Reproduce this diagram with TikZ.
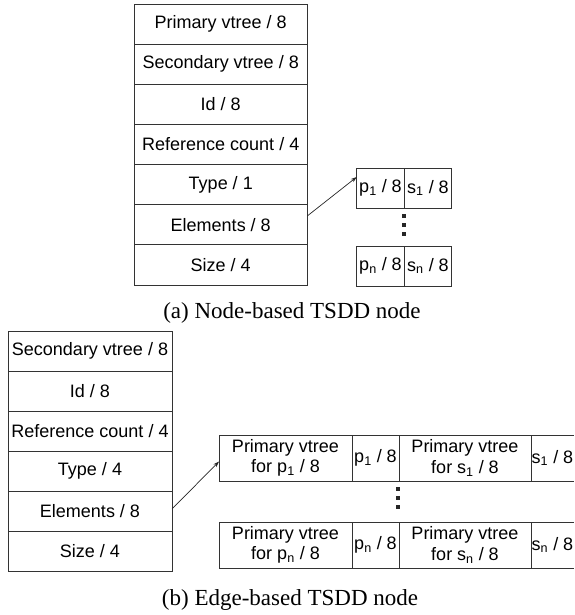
\documentclass[tikz,border=0pt]{standalone}
\usepackage{fontspec}
\setmainfont{Liberation Serif}
\newfontfamily\boxfont{Liberation Sans}
\usetikzlibrary{arrows.meta}
\begin{document}
\begin{tikzpicture}[x=1pt,y=-1pt,every node/.style={draw=black!80, line width=0.8pt, outer sep=0pt, inner sep=1pt, font=\boxfont\fontsize{18}{20.5}\selectfont},
  field/.style={minimum width=173.5pt, minimum height=40.14pt},
  efield/.style={minimum width=164pt, minimum height=40pt},
  pair/.style={minimum width=47.5pt, minimum height=40pt},
  wide/.style={minimum height=46pt, align=center},
  cutbox/.style={minimum height=46pt, draw=none, minimum width=43pt, inner xsep=0.5pt, anchor=west},
  edge line/.style={draw=black!80, line width=0.8pt},
  caption/.style={draw=none, font=\rmfamily\fontsize{23}{26}\selectfont},
  dot/.style={fill=black!85}]
\useasboundingbox (0,0) rectangle (574,615);
% (a) node-based
\node[field] (pv) at (220.75,24.1) {Primary vtree / 8};
\node[field] (sv) at (220.75,64.2) {Secondary vtree / 8};
\node[field] (id) at (220.75,104.4) {Id / 8};
\node[field] (rc) at (220.75,144.5) {Reference count / 4};
\node[field] (ty) at (220.75,184.7) {Type / 1};
\node[field] (el) at (220.75,224.8) {Elements / 8};
\node[field] (sz) at (220.75,264.9) {Size / 4};
\node[pair] (p1) at (380.5,188) {p\textsubscript{1} / 8};
\node[pair] (s1) at (428,188) {s\textsubscript{1} / 8};
\node[pair] (pn) at (380.5,266) {p\textsubscript{n} / 8};
\node[pair] (sn) at (428,266) {s\textsubscript{n} / 8};
\fill[dot] (402,214) rectangle (406,218);
\fill[dot] (402,223) rectangle (406,227);
\fill[dot] (402,232) rectangle (406,236);
\draw[black!85, line width=0.7pt, -{Stealth[length=6pt,width=4pt]}] ([yshift=9pt]el.east) -- ([yshift=11pt]p1.west);
\node[caption] (capa) at (292,313) {(a) Node-based TSDD node};
% (b) edge-based
\node[efield] (esv) at (90,351) {Secondary vtree / 8};
\node[efield] (eid) at (90,391) {Id / 8};
\node[efield] (erc) at (90,431) {Reference count / 4};
\node[efield] (ety) at (90,471) {Type / 4};
\node[efield] (eel) at (90,511) {Elements / 8};
\node[efield] (esz) at (90,551) {Size / 4};
\node[wide, minimum width=133pt] (vp1) at (285.5,458) {Primary vtree\\for p\textsubscript{1} / 8};
\node[wide, minimum width=47pt] (ep1) at (375.5,458) {p\textsubscript{1} / 8};
\node[wide, minimum width=132pt] (vs1) at (465,458) {Primary vtree\\for s\textsubscript{1} / 8};
\node[cutbox] (es1) at (531,458) {s\textsubscript{1} / 8};
\draw[edge line] (vs1.north east) -- (es1.north east) (vs1.south east) -- (es1.south east);
\node[wide, minimum width=133pt] (vpn) at (285.5,545) {Primary vtree\\for p\textsubscript{n} / 8};
\node[wide, minimum width=47pt] (epn) at (375.5,545) {p\textsubscript{n} / 8};
\node[wide, minimum width=132pt] (vsn) at (465,545) {Primary vtree\\for s\textsubscript{n} / 8};
\node[cutbox] (esn) at (531,545) {s\textsubscript{n} / 8};
\draw[edge line] (vsn.north east) -- (esn.north east) (vsn.south east) -- (esn.south east);
\fill[dot] (396,487) rectangle (400,491);
\fill[dot] (396,496) rectangle (400,500);
\fill[dot] (396,505) rectangle (400,509);
\draw[black!85, line width=0.7pt, -{Stealth[length=6pt,width=4pt]}] ([yshift=2pt]eel.east) -- ([yshift=-3.5pt]vp1.west);
\node[caption] (capb) at (290,600) {(b) Edge-based TSDD node};
\end{tikzpicture}
\end{document}
